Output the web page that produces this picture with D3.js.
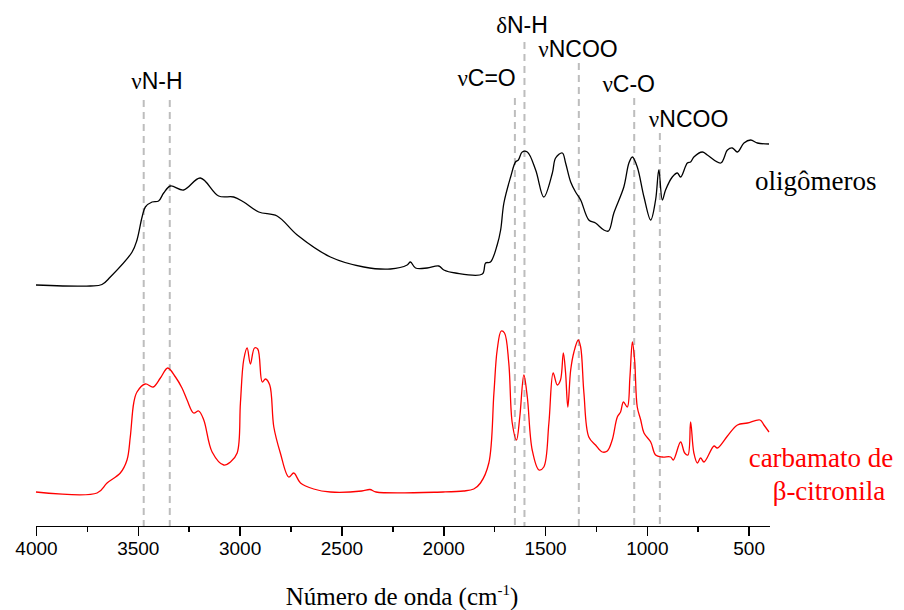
<!DOCTYPE html>
<meta charset="utf-8">
<style>
  body { margin: 0; background: #fff; }
  .axis path, .axis line { stroke: #000; stroke-width: 1.6px; shape-rendering: crispEdges; }
  .axis text { font: 19px "Liberation Sans", Arial, sans-serif; fill: #000; }
  .band { font: 23px "Liberation Sans", Arial, sans-serif; fill: #000; }
  .serif { font-family: "Liberation Serif", "Times New Roman", serif; }
</style>
<svg width="904" height="610"></svg>
<script src="https://d3js.org/d3.v7.min.js"></script>
<script>
  // wavenumber (cm-1) and relative intensity (a.u.)
  var oligoWave = [4000, 3733, 3676, 3635, 3528, 3504, 3479, 3463, 3430, 3398, 3373, 3340, 3275, 3193, 3103, 3029,
    2980, 2906, 2816, 2717, 2554, 2390, 2259, 2177, 2161, 2136, 2079, 2022, 1997, 1940, 1808, 1792, 1768, 1735,
    1718, 1702, 1669, 1645, 1631, 1612, 1587, 1546, 1506, 1464, 1448, 1415, 1399, 1374, 1350, 1325, 1285, 1252,
    1211, 1188, 1162, 1113, 1088, 1071, 1047, 1014, 981, 957, 941, 924, 908, 875, 850, 834, 801, 785, 769, 727,
    703, 637, 604, 580, 555, 523, 490, 457, 400];
  var oligoVal = [241, 240, 241.5, 249, 274, 286, 309, 319, 324, 325, 333, 340, 336, 348, 330, 329,
    324, 314, 310, 291, 269, 259, 257, 261, 264, 258, 258, 260, 256, 253, 252, 263, 264, 281,
    296, 323, 349, 364, 366, 374, 374, 356, 329, 353, 368, 373, 363, 344, 334, 326, 306, 303,
    296, 295, 313, 339, 363, 369, 359, 329, 306, 326, 356, 326, 336, 349, 353, 349, 363, 364, 369, 374,
    371, 363, 376, 378, 374, 383, 386, 383, 382];

  var carbWave = [4000, 3700, 3651, 3586, 3553, 3537, 3520, 3504, 3463, 3425, 3389, 3353, 3315, 3283, 3258, 3226,
    3201, 3176, 3135, 3078, 3045, 3012, 2996, 2980, 2963, 2947, 2927, 2911, 2889, 2873, 2852, 2832, 2800, 2759,
    2734, 2701, 2636, 2554, 2400, 2360, 2330, 2000, 1900, 1850, 1817, 1776, 1751, 1735, 1715, 1699, 1678, 1661,
    1640, 1624, 1604, 1587, 1563, 1530, 1506, 1481, 1460, 1440, 1424, 1410, 1399, 1388, 1374, 1358, 1337, 1325,
    1309, 1285, 1252, 1219, 1194, 1170, 1145, 1129, 1115, 1096, 1083, 1071, 1060, 1047, 1030, 1014, 981, 957,
    924, 883, 870, 834, 814, 798, 785, 769, 752, 736, 719, 670, 654, 604, 555, 506, 444, 425, 400];
  var carbVal = [34, 33, 43, 53, 66, 89, 123, 134, 142, 139, 148, 158, 149, 138, 126, 113,
    115, 106, 74, 61, 64, 73, 123, 166, 178, 162, 178, 177, 144, 147, 141, 99, 73, 49,
    53, 43, 37, 34, 35, 36.5, 34, 34, 35, 37, 43, 63, 133, 176, 195, 193, 163, 103,
    86, 109, 151, 129, 76, 56, 59, 103, 153, 141, 146, 173, 153, 119, 156, 174, 186, 179,
    133, 89, 81, 74, 75, 86, 109, 114, 124, 119, 149, 184, 166, 119, 106, 93, 84, 71,
    69, 69, 66, 84, 73, 71, 104, 73, 63, 68, 64, 80, 78, 90, 101, 103, 106, 101, 94];

  var xTicks = [4000, 3500, 3000, 2500, 2000, 1500, 1000, 500];
  var xMinor = [3750, 3250, 2750, 2250, 1750, 1250, 750];

  // band assignments: dashed line wavenumber and top (a.u.)
  var bandWave = [3471, 3343, 1648, 1601, 1334, 1062, 936];
  var bandTop = [426, 426, 428, 484, 463, 428, 393];

  // label = greek prefix + group
  var labelGreek = ["ν", "ν", "δ", "ν", "ν", "ν"];
  var labelGroup = ["N-H", "C=O", "N-H", "NCOO", "C-O", "NCOO"];
  var labelWave = [3406, 1787, 1613, 1338, 1089, 795];
  var labelVal = [437, 440, 493, 469, 434, 399];

  var svg = d3.select("svg");

  var x = d3.scaleLinear().domain([4000, 400]).range([36, 769]);
  var y = d3.scaleLinear().domain([0, 500]).range([526, 26]);

  // dashed band lines
  svg.selectAll(".bandline")
    .data(bandWave)
    .enter().append("line")
    .attr("class", "bandline")
    .attr("x1", function (d) { return x(d); })
    .attr("x2", function (d) { return x(d); })
    .attr("y1", function (d, i) { return y(bandTop[i]); })
    .attr("y2", y(0))
    .attr("stroke", "#bdbdbd")
    .attr("stroke-width", 2)
    .attr("stroke-dasharray", "7,5");

  var line = d3.line()
    .x(function (d) { return x(d[0]); })
    .y(function (d) { return y(d[1]); })
    .curve(d3.curveCatmullRom.alpha(0.5));

  svg.append("path")
    .datum(oligoWave.map(function (w, i) { return [w, oligoVal[i]]; }))
    .attr("fill", "none")
    .attr("stroke", "#000")
    .attr("stroke-width", 1.3)
    .attr("d", line);

  svg.append("path")
    .datum(carbWave.map(function (w, i) { return [w, carbVal[i]]; }))
    .attr("fill", "none")
    .attr("stroke", "#ff0000")
    .attr("stroke-width", 1.3)
    .attr("d", line);

  // axes
  svg.append("g")
    .attr("class", "axis")
    .attr("transform", "translate(0," + y(0) + ")")
    .call(d3.axisBottom(x).tickValues(xMinor).tickSize(6).tickFormat(""))
    .select(".domain").remove();

  svg.append("g")
    .attr("class", "axis")
    .attr("transform", "translate(0," + y(0) + ")")
    .call(d3.axisBottom(x).tickValues(xTicks).tickSize(10).tickSizeOuter(0).tickPadding(6).tickFormat(d3.format("d")));

  // band labels
  var lab = svg.selectAll(".band")
    .data(labelGroup)
    .enter().append("text")
    .attr("class", "band")
    .attr("text-anchor", "middle")
    .attr("x", function (d, i) { return x(labelWave[i]); })
    .attr("y", function (d, i) { return y(labelVal[i]); });
  lab.append("tspan")
    .attr("class", "serif")
    .text(function (d, i) { return labelGreek[i]; });
  lab.append("tspan")
    .text(function (d) { return d; });

  // series names
  svg.append("text")
    .attr("class", "serif")
    .attr("x", 755).attr("y", 190)
    .style("font-size", "27px")
    .text("oligômeros");

  svg.append("text")
    .attr("class", "serif")
    .attr("x", 821).attr("y", 467)
    .attr("text-anchor", "middle")
    .attr("fill", "#ff0000")
    .style("font-size", "27px")
    .text("carbamato de");

  svg.append("text")
    .attr("class", "serif")
    .attr("x", 829).attr("y", 500)
    .attr("text-anchor", "middle")
    .attr("fill", "#ff0000")
    .style("font-size", "27px")
    .text("β-citronila");

  // x title
  var title = svg.append("text")
    .attr("class", "serif")
    .attr("x", 402).attr("y", 605)
    .attr("text-anchor", "middle")
    .style("font-size", "25px");
  title.append("tspan").text("Número de onda (cm");
  title.append("tspan").attr("dy", -10).style("font-size", "15px").text("-1");
  title.append("tspan").attr("dy", 10).text(")");
</script>
